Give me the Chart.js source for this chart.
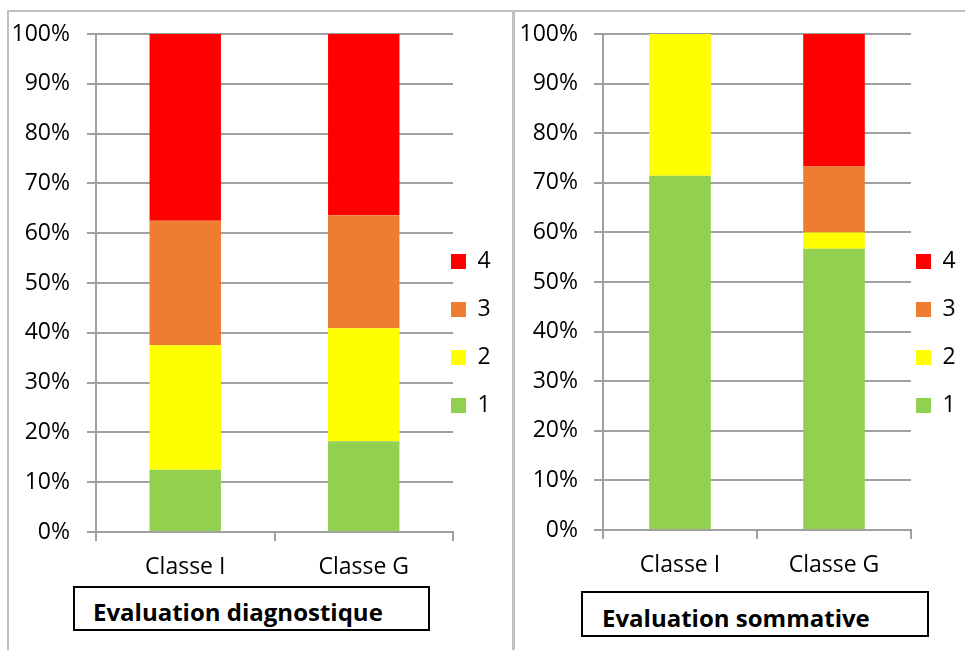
<!DOCTYPE html>
<html>
<head>
<meta charset="utf-8">
<script src="https://cdn.jsdelivr.net/npm/chart.js@4.4.1/dist/chart.umd.min.js"></script>
<style>
  html, body { margin: 0; padding: 0; background: #fff; }
  body { width: 965px; height: 650px; position: relative; overflow: hidden; font-family: 'Open Sans', sans-serif; }
  .panel { position: absolute; top: 10px; border: 2px solid #c0c0c0; box-sizing: border-box; }
  #panelL { left: 7px; width: 507px; height: 680px; }
  #panelR { left: 513px; width: 480px; height: 680px; }
  .wrap { position: absolute; }
  #wrapL { left: 8px; top: 11px; width: 504px; height: 571px; }
  #wrapR { left: 516px; top: 11px; width: 449px; height: 569px; }
  .title { position: absolute; border: 2px solid #000; box-sizing: border-box; background: #fff;
           font-weight: bold; font-size: 24px; color: #000; display: flex; align-items: center; padding-top: 5px; }
  #titleL { left: 73px; top: 586px; width: 357px; height: 45px; padding-left: 18px; }
  #titleR { left: 581px; top: 591px; width: 348px; height: 46px; padding-left: 19px; padding-top: 7px; }
</style>
</head>
<body>
<div class="panel" id="panelL"></div>
<div class="panel" id="panelR"></div>
<div class="wrap" id="wrapL"><canvas id="chartL"></canvas></div>
<div class="wrap" id="wrapR"><canvas id="chartR"></canvas></div>
<div class="title" id="titleL">Evaluation diagnostique</div>
<div class="title" id="titleR">Evaluation sommative</div>
<script>
// categories and levels
const categories = ['Classe I', 'Classe G'];
const levels = ['1', '2', '3', '4'];

// Evaluation diagnostique, % of pupils per level
const diagLevel1 = [12.5, 18.2];
const diagLevel2 = [25.0, 22.7];
const diagLevel3 = [25.0, 22.7];
const diagLevel4 = [37.5, 36.4];

// Evaluation sommative, % of pupils per level
const sommLevel1 = [71.4, 56.7];
const sommLevel2 = [28.6, 3.3];
const sommLevel3 = [0, 13.3];
const sommLevel4 = [0, 26.7];

const levelColors = ['#92D050', '#FFFF00', '#ED7D31', '#FF0000'];
const gridColor = '#a0a0a0';

Chart.defaults.font.family = "'Open Sans', sans-serif";
Chart.defaults.font.size = 23;
Chart.defaults.color = '#000';

// puts the legend where Excel had it (first box top-left, canvas coords)
const legendPlace = {
    id: 'legendPlace',
    afterLayout(chart, args, opts) {
        const lg = chart.legend;
        if (!lg || opts.boxX === undefined) return;
        const lab = lg.options.labels;
        const pad = lab.padding;
        const shift = Math.max((lab.font.size - lab.boxHeight) / 2, 0);
        const w = lg.width;
        lg.left = opts.boxX - pad;
        lg.right = lg.left + w;
        lg.top = opts.boxY - pad - shift;
        lg.bottom = lg.top + 400;
        lg.height = 400;
    }
};

function makeChart(canvasId, series, cfg) {
    const datasets = series.map((data, i) => ({
        label: levels[i],
        data,
        backgroundColor: levelColors[i],
        borderWidth: 0,
        categoryPercentage: 0.4,
        barPercentage: 1.0
    }));

    return new Chart(document.getElementById(canvasId), {
        type: 'bar',
        data: { labels: categories, datasets },
        plugins: [legendPlace],
        options: {
            responsive: true,
            maintainAspectRatio: false,
            animation: false,
            layout: { padding: { top: 23, right: cfg.padRight, bottom: 0, left: 0 } },
            plugins: {
                tooltip: { enabled: false },
                legend: {
                    position: 'chartArea',
                    align: 'start',
                    reverse: true,
                    labels: { boxWidth: 15, boxHeight: 15, padding: 25, color: '#000', font: { size: 23 } }
                },
                legendPlace: { boxX: cfg.legendX, boxY: cfg.legendY }
            },
            scales: {
                x: {
                    stacked: true,
                    offset: true,
                    grid: { drawOnChartArea: false, drawTicks: true, tickLength: 9, offset: true, color: gridColor, lineWidth: 2 },
                    border: { display: true, color: gridColor, width: 2 },
                    ticks: { padding: 13, color: '#000', font: { size: 23 } },
                    afterFit: s => { s.height = 50; }
                },
                y: {
                    stacked: true,
                    min: 0,
                    max: 100,
                    grid: { color: gridColor, lineWidth: 2, tickLength: 9, drawTicks: true },
                    border: { display: true, color: gridColor, width: 2 },
                    ticks: { stepSize: 10, padding: cfg.tickPad, color: '#000', font: { size: 23 }, callback: v => v + '%' },
                    afterFit: s => { s.width = cfg.axisWidth; s.paddingTop = 0; s.paddingBottom = 0; }
                }
            }
        }
    });
}

makeChart('chartL', [diagLevel1, diagLevel2, diagLevel3, diagLevel4],
    { axisWidth: 88, padRight: 59, tickPad: 17, legendX: 443, legendY: 243 });
makeChart('chartR', [sommLevel1, sommLevel2, sommLevel3, sommLevel4],
    { axisWidth: 87, padRight: 54, tickPad: 16, legendX: 400, legendY: 243 });
</script>
</body>
</html>
